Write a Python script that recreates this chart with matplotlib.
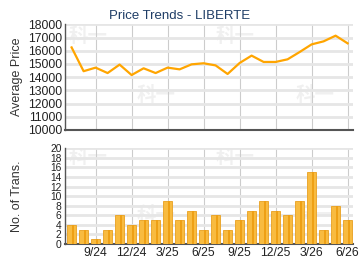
import matplotlib
matplotlib.use("Agg")
import matplotlib.pyplot as plt
import numpy as np

plt.rcParams['font.family'] = ['Liberation Sans', 'DejaVu Sans']

months = ['7/24', '8/24', '9/24', '10/24', '11/24', '12/24', '1/25', '2/25', '3/25',
          '4/25', '5/25', '6/25', '7/25', '8/25', '9/25', '10/25', '11/25', '12/25',
          '1/26', '2/26', '3/26', '4/26', '5/26', '6/26']
avg_price = [16250, 14450, 14720, 14310, 14950, 14160, 14670, 14310, 14720, 14590,
             14970, 15050, 14890, 14240, 15070, 15630, 15150, 15150, 15350, 15900,
             16480, 16710, 17140, 16560]
transactions = [4, 3, 1, 3, 6, 4, 5, 5, 9, 5, 7, 3, 6, 3, 5, 7, 9, 7, 6, 9, 15, 3, 8, 5]
tick_labels = ['9/24', '12/24', '3/25', '6/25', '9/25', '12/25', '3/26', '6/26']

x = np.arange(len(months))
tick_pos = [months.index(t) for t in tick_labels]

fig = plt.figure(figsize=(3.6, 2.7), dpi=100)
ax1 = fig.add_axes([65/360, 1-130/270, 288/360, (130-24.3)/270])
ax2 = fig.add_axes([65/360, 1-244/270, 288/360, (244-148.3)/270])

for ax in (ax1, ax2):
    ax.set_xlim(-0.55, 23.45)
    for s in ('top', 'right'):
        ax.spines[s].set_visible(False)
    ax.spines['left'].set_color('#555555')
    ax.spines['left'].set_linewidth(1.0)
    ax.spines['bottom'].set_color('#555555')
    ax.spines['bottom'].set_linewidth(1.5)
    ax.set_xticks(tick_pos)
    ax.tick_params(length=0, labelsize=8.8, colors='#222222', pad=2)
    ax.set_axisbelow(True)
    ax.grid(axis='y', color='#e6e6e6', linewidth=2.0)
    ax.grid(axis='x', color='#cccccc', linewidth=0.8)

ax2.tick_params(axis='y', labelsize=7.4, pad=2.5)

# watermark
wm_top = [(0.08, 0.88), (0.59, 0.88), (0.316, 0.33), (0.87, 0.33)]
wm_bot = [(0.08, 0.90), (0.59, 0.90), (0.316, 0.30), (0.87, 0.30)]
for ax, pos in ((ax1, wm_top), (ax2, wm_bot)):
    for px, py in pos:
        ax.text(px, py, '科一', transform=ax.transAxes, fontsize=14, color='#000000',
                alpha=0.06, fontweight='bold', family=['Noto Sans CJK SC'],
                ha='center', va='center', zorder=0, clip_on=True)

ax1.plot(x, avg_price, color='#ffa500', linewidth=1.6, zorder=3)
ax1.set_ylim(10000, 18000)
ax1.set_yticks(np.arange(10000, 18001, 1000))
ax1.set_xticklabels([])
ax1.set_ylabel('Average Price', fontsize=9, color='#333333')
ax1.yaxis.set_label_coords(-0.145, 0.5)
fig.text(0.5, 1-16/270, 'Price Trends - LIBERTE', fontsize=9.5, color='#1f3d66',
         ha='center', va='center')

ax2.bar(x, transactions, width=0.7, color='#f8bb40', edgecolor='#e8a020', linewidth=0.6, zorder=3)
ax2.bar(x + 0.12, transactions, width=0.2, color='#eea015', linewidth=0, zorder=3)
ax2.set_ylim(0, 20)
ax2.set_yticks(np.arange(0, 21, 2))
ax2.set_xticklabels(tick_labels)
ax2.set_ylabel('No. of Trans.', fontsize=9, color='#333333')
ax2.yaxis.set_label_coords(-0.145, 0.5)

fig.savefig('out.png', dpi=100)
